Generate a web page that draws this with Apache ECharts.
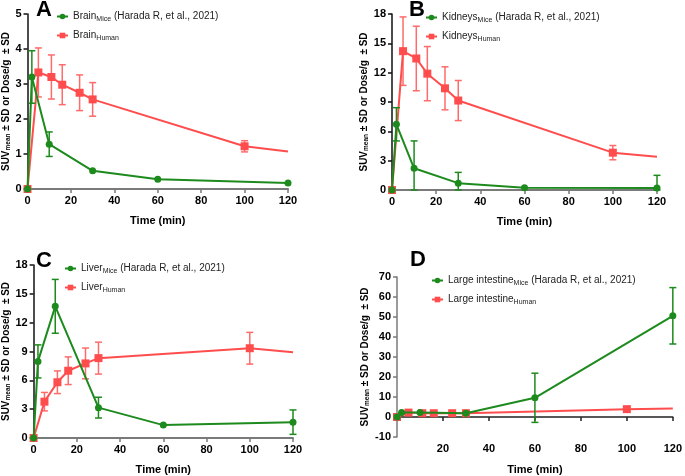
<!DOCTYPE html>
<html><head><meta charset="utf-8">
<script src="https://cdn.jsdelivr.net/npm/echarts@6/dist/echarts.min.js"></script>
<style>html,body{margin:0;padding:0;background:#fff}#c{width:685px;height:476px}</style>
</head><body><div id="c"></div>
<script>
// ---- data ----
const timeMice = [0, 2, 10, 30, 60, 120];
const timeHuman = [0, 5, 11, 16, 24, 30, 100, 120];

const brainMice = [0, 3.2, 1.28, 0.52, 0.28, 0.17];
const brainMiceSD = [0, 0.75, 0.35, 0, 0, 0];
const brainHuman = [0, 3.33, 3.2, 2.98, 2.75, 2.56, 1.22, 1.07];
const brainHumanSD = [0, 0.7, 0.63, 0.57, 0.51, 0.48, 0.16, 0];

const kidneysMice = [0, 6.72, 2.22, 0.7, 0.22, 0.2];
const kidneysMiceSD = [0, 1.7, 2.8, 1.1, 0, 1.3];
const kidneysHuman = [0, 14.2, 13.45, 11.9, 10.4, 9.15, 3.82, 3.41];
const kidneysHumanSD = [0, 3.5, 3.3, 2.77, 2.2, 2.05, 0.73, 0];

const liverMice = [0, 7.97, 13.7, 3.16, 1.34, 1.65];
const liverMiceSD = [0, 1.72, 2.8, 1.08, 0, 1.27];
const liverHuman = [0, 3.78, 5.8, 7.0, 7.76, 8.31, 9.34, 8.93];
const liverHumanSD = [0, 0.96, 1.18, 1.44, 1.6, 1.66, 1.65, 0];

const intestineMice = [0, 2.2, 2.2, 1.9, 9.6, 50.6];
const intestineMiceSD = [0, 0, 0, 0, 12.3, 14.1];
const intestineHuman = [0, 2.2, 1.9, 1.9, 1.9, 1.9, 3.93, 4.2];
const intestineHumanSD = [0, 0, 0, 0, 0, 0, 0, 0];

const organs = ['Brain', 'Kidneys', 'Liver', 'Large intestine'];
const panelLetters = ['A', 'B', 'C', 'D'];
const xTicks = [0, 20, 40, 60, 80, 100, 120];
const yRanges = [[0, 5, 1], [0, 18, 3], [0, 18, 3], [-10, 70, 10]];

const miceSets = [[brainMice, brainMiceSD], [kidneysMice, kidneysMiceSD], [liverMice, liverMiceSD], [intestineMice, intestineMiceSD]];
const humanSets = [[brainHuman, brainHumanSD], [kidneysHuman, kidneysHumanSD], [liverHuman, liverHumanSD], [intestineHuman, intestineHumanSD]];

// ---- layout / style ----
const GREEN = '#1d8a1d';
const RED = '#ff4d4d';
const FONT = '"Liberation Sans", Arial, sans-serif';
const grids = [
  { left: 24, top: 14, width: 264, height: 175 },
  { left: 392, top: 14, width: 265, height: 176 },
  { left: 29, top: 265, width: 264, height: 174 },
  { left: 397, top: 277, width: 278, height: 183 }
];
const legendPos = [
  { left: 56, top: 10 },
  { left: 425, top: 11 },
  { left: 64, top: 262 },
  { left: 431, top: 274 }
];
const yNameGaps = [14, 17, 14, 21];
const letterPos = [[36, 10], [409, 10], [36, 261], [410, 260]];

const chart = echarts.init(document.getElementById('c'), null, { renderer: 'canvas' });

function errRender(color) {
  return function (params, api) {
    const x = api.value(0), y = api.value(1), e = api.value(2);
    if (!e) return null;
    const cs = params.coordSys;
    const bottomLimit = cs.y + cs.height;
    const top = api.coord([x, y + e]);
    const bot = api.coord([x, y - e]);
    let by = bot[1];
    if (by > bottomLimit) by = bottomLimit;
    const hw = 3.5;
    const st = { stroke: color, lineWidth: 1.5 };
    return { type: 'group', children: [
      { type: 'line', shape: { x1: top[0], y1: top[1], x2: top[0], y2: by }, style: st },
      { type: 'line', shape: { x1: top[0] - hw, y1: top[1], x2: top[0] + hw, y2: top[1] }, style: st },
      { type: 'line', shape: { x1: top[0] - hw, y1: by, x2: top[0] + hw, y2: by }, style: st }
    ] };
  };
}

const grid = [], xAxis = [], yAxis = [], series = [], legend = [], graphic = [];
organs.forEach((org, i) => {
  grid.push(Object.assign({ containLabel: false }, grids[i]));
  const isD = i === 3;
  xAxis.push({
    type: 'value', gridIndex: i, min: 0, max: 120, interval: 20,
    name: 'Time (min)', nameLocation: 'middle', nameGap: isD ? 27 : 26,
    nameTextStyle: { fontFamily: FONT, fontWeight: 'bold', fontSize: 11, color: '#000' },
    axisLine: { onZero: true, lineStyle: { color: isD ? '#222' : '#7a7a7a', width: isD ? 1.5 : 2 } },
    axisTick: { show: true, length: 4, lineStyle: { color: isD ? '#222' : '#7a7a7a', width: 1.5 } },
    axisLabel: { margin: 6, fontFamily: FONT, fontWeight: 'bold', fontSize: 11, color: '#000',
      formatter: v => (isD && v === 0) ? '' : String(v) },
    splitLine: { show: false }
  });
  yAxis.push({
    type: 'value', gridIndex: i, min: yRanges[i][0], max: yRanges[i][1], interval: yRanges[i][2],
    name: 'SUV{sub|mean} ± SD or Dose/g  ± SD', nameLocation: 'middle', nameRotate: 90,
    nameGap: yNameGaps[i],
    nameTextStyle: { fontFamily: FONT, fontWeight: 'bold', fontSize: 10, color: '#000',
      rich: { sub: { fontFamily: FONT, fontWeight: 'bold', fontSize: 6.5, color: '#000', padding: [4, 0, 0, 0] } } },
    axisLine: { show: true, onZero: false, lineStyle: { color: isD ? '#7a7a7a' : '#111', width: 1.5 } },
    axisTick: { show: true, length: 4, lineStyle: { color: isD ? '#7a7a7a' : '#111', width: 1.5 } },
    axisLabel: { margin: 6, fontFamily: FONT, fontWeight: 'bold', fontSize: 11, color: '#000' },
    splitLine: { show: false }
  });
  const mName = org + 'Mice', hName = org + 'Human';
  const mData = timeMice.map((t, k) => [t, miceSets[i][0][k], miceSets[i][1][k]]);
  const hData = timeHuman.map((t, k) => [t, humanSets[i][0][k], humanSets[i][1][k]]);
  const lastH = hData.length - 1;
  series.push({
    type: 'custom', name: hName + '_err', xAxisIndex: i, yAxisIndex: i, data: hData,
    renderItem: errRender('#ff6b6b'), encode: { x: 0, y: 1 }, z: 1, silent: true
  });
  series.push({
    type: 'line', name: hName, xAxisIndex: i, yAxisIndex: i,
    data: hData.map((d, k) => k === lastH ? { value: [d[0], d[1]], symbol: 'none' } : [d[0], d[1]]),
    color: RED, lineStyle: { width: 2, color: RED }, itemStyle: { color: RED },
    symbol: 'rect', symbolSize: 8, showAllSymbol: true,
    z: 2, animation: false
  });
  series.push({
    type: 'custom', name: mName + '_err', xAxisIndex: i, yAxisIndex: i, data: mData,
    renderItem: errRender(GREEN), encode: { x: 0, y: 1 }, z: 3, silent: true
  });
  series.push({
    type: 'line', name: mName, xAxisIndex: i, yAxisIndex: i, data: mData.map(d => [d[0], d[1]]),
    color: GREEN, lineStyle: { width: 2, color: GREEN }, itemStyle: { color: GREEN },
    symbol: 'circle', symbolSize: 7, showAllSymbol: true, z: 4, animation: false
  });
  legend.push({
    data: [mName, hName],
    orient: 'vertical', left: legendPos[i].left, top: legendPos[i].top,
    padding: 0, itemGap: 6, itemWidth: 11, itemHeight: 7,
    formatter: n => n.endsWith('Mice')
      ? n.slice(0, -4) + '{sub|Mice} (Harada R, et al., 2021)'
      : n.slice(0, -5) + '{sub|Human}',
    textStyle: { fontFamily: FONT, fontSize: 10, color: '#222', lineHeight: 13,
      rich: { sub: { fontFamily: FONT, fontSize: 7, color: '#222', padding: [5, 0, 0, 0] } } }
  });
  graphic.push({
    type: 'text', left: letterPos[i][0], top: letterPos[i][1] - 11,
    style: { text: panelLetters[i], font: 'bold 22px ' + FONT, fill: '#000' }
  });
});

chart.setOption({
  animation: false,
  backgroundColor: '#fff',
  grid, xAxis, yAxis, series, legend, graphic
});
</script>
</body></html>
